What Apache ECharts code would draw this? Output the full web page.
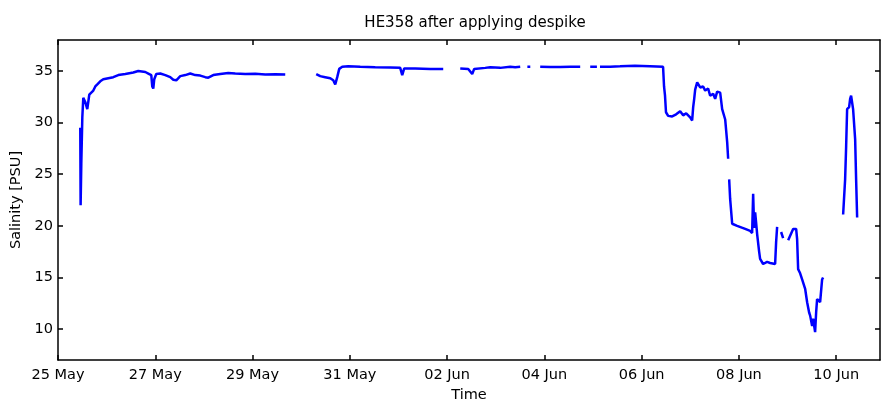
<!DOCTYPE html>
<html>
<head>
<meta charset="utf-8">
<script src="https://cdn.jsdelivr.net/npm/echarts@6/dist/echarts.min.js"></script>
<style>html,body{margin:0;padding:0;background:#fff}#c{width:881px;height:403px}</style>
</head>
<body>
<div id="c"></div>
<script>
// Time in days since 25 May 00:00
var tickLabels = ['25 May','27 May','29 May','31 May','02 Jun','04 Jun','06 Jun','08 Jun','10 Jun'];
var xTicks = [0,2,4,6,8,10,12,14,16];
var yTicks = [10,15,20,25,30,35];
var days = [
 0.458,0.465,0.479,0.5,0.52,0.56,0.602,0.643,0.684,0.726,0.767,0.808,0.869,0.931,1.034,1.137,1.239,1.383,1.548,1.65,1.69,1.795,1.857,1.918,1.938,1.959,1.979,2.02,2.103,2.206,2.308,2.37,2.432,2.514,2.617,2.719,2.822,2.925,3.028,3.09,3.192,3.336,3.5,3.644,3.85,4.055,4.261,4.467,4.672,4.7,
 5.309,5.391,5.494,5.597,5.659,5.7,5.741,5.782,5.844,5.967,6.214,6.522,6.83,7.036,7.077,7.118,7.344,7.653,7.92,7.95,
 8.27,8.434,8.516,8.557,8.783,8.886,9.092,9.297,9.4,9.503,9.55,
 9.65,9.71,9.75,
 9.914,10.125,10.325,10.536,10.736,10.8,
 10.942,11.08,11.11,
 11.143,11.354,11.554,11.862,12.171,12.44,12.46,12.48,12.5,12.544,12.627,12.709,12.791,12.853,12.915,12.997,13.038,13.059,13.08,13.1,13.141,13.203,13.264,13.306,13.367,13.408,13.47,13.511,13.552,13.614,13.655,13.717,13.758,13.778,13.785,
 13.799,13.819,13.861,13.963,14.128,14.23,14.271,14.292,14.312,14.333,14.353,14.374,14.415,14.435,14.497,14.579,14.641,14.744,14.764,14.785,14.82,
 14.867,14.908,14.95,
 15.012,15.053,15.114,15.176,15.196,15.217,15.258,15.299,15.361,15.402,15.443,15.464,15.505,15.525,15.566,15.587,15.607,15.669,15.71,15.73,15.8,
 16.142,16.183,16.204,16.224,16.265,16.286,16.306,16.347,16.389,16.409,16.43
];
var salinity = [
 29.5,22.0,26.0,30.5,32.4,32.0,31.3,32.7,32.6,33.1,33.5,33.7,34.0,34.2,34.3,34.4,34.6,34.7,34.85,35.0,34.85,34.9,34.75,34.6,33.5,33.3,34.2,34.7,34.75,34.6,34.4,34.15,34.1,34.5,34.6,34.75,34.6,34.55,34.4,34.35,34.6,34.7,34.8,34.75,34.7,34.72,34.65,34.68,34.65,null,
 34.7,34.5,34.4,34.3,34.1,33.7,34.4,35.2,35.4,35.45,35.4,35.35,35.33,35.3,34.6,35.25,35.25,35.2,35.2,null,
 35.25,35.2,34.7,35.2,35.3,35.35,35.3,35.4,35.35,35.4,null,
 35.4,35.4,null,
 35.4,35.38,35.38,35.4,35.4,null,
 35.4,35.4,null,
 35.4,35.42,35.45,35.5,35.45,35.4,33.5,32.6,31.0,30.65,30.6,30.8,31.1,30.7,30.9,30.5,30.2,31.5,32.3,33.2,33.9,33.4,33.5,33.1,33.3,32.6,32.8,32.3,33.0,32.9,31.3,30.3,28.1,26.5,null,
 24.5,22.6,20.2,20.0,19.7,19.5,19.3,23.1,19.8,21.3,20.3,19.2,17.5,16.8,16.3,16.5,16.4,16.3,18.4,19.9,null,
 19.4,18.8,null,
 18.6,18.5,19.7,19.7,18.7,15.8,15.4,14.8,13.9,12.6,11.6,11.3,10.3,11.0,9.7,11.6,12.9,12.6,14.8,15.0,null,
 21.1,24.5,27.7,31.3,31.5,32.3,32.6,31.3,28.4,24.5,20.8
];
var xMin = 0, xMax = 16.9;
var yMin = 7, yMax = 38;

var data = days.map(function(d,i){ return [d, salinity[i]]; });
var font = '"DejaVu Sans", "Liberation Sans", Arial, sans-serif';
var axisLine = {show:true, onZero:false, lineStyle:{color:'#000', width:1.5}};
function tick(vals){ return {show:true, inside:true, length:5, customValues:vals, lineStyle:{color:'#000', width:1.5}}; }
function xFmt(v){
  var i = xTicks.indexOf(Math.round(v*1000)/1000);
  return i >= 0 ? tickLabels[i] : '';
}
var chart = echarts.init(document.getElementById('c'), null, {renderer:'canvas'});
chart.setOption({
  animation:false,
  backgroundColor:'#fff',
  title:{text:'HE358 after applying despike', left:470, textAlign:'center', top:11,
    textStyle:{fontFamily:font, fontSize:15, fontWeight:'normal', color:'#000'}},
  grid:{left:58, right:1, top:40, bottom:43, containLabel:false, outerBoundsMode:'none'},
  xAxis:[
    {type:'value', min:xMin, max:xMax, position:'bottom',
     name:'Time', nameLocation:'middle', nameGap:28,
     nameTextStyle:{fontFamily:font, fontSize:14.5, color:'#000'},
     axisLine:axisLine, axisTick:tick(xTicks), splitLine:{show:false},
     axisLabel:{customValues:xTicks, formatter:xFmt, fontFamily:font, fontSize:14.5, color:'#000', margin:8}},
    {type:'value', min:xMin, max:xMax, position:'top',
     axisLine:axisLine, axisTick:tick(xTicks), splitLine:{show:false}, axisLabel:{show:false}}
  ],
  yAxis:[
    {type:'value', min:yMin, max:yMax, position:'left',
     name:'Salinity [PSU]', nameLocation:'middle', nameGap:33, nameRotate:90,
     nameTextStyle:{fontFamily:font, fontSize:14.5, color:'#000'},
     axisLine:axisLine, axisTick:tick(yTicks), splitLine:{show:false},
     axisLabel:{customValues:yTicks, fontFamily:font, fontSize:14.5, color:'#000', margin:5}},
    {type:'value', min:yMin, max:yMax, position:'right',
     axisLine:axisLine, axisTick:tick(yTicks), splitLine:{show:false}, axisLabel:{show:false}}
  ],
  series:[{
    type:'line', data:data, xAxisIndex:0, yAxisIndex:0,
    showSymbol:false, connectNulls:false, smooth:false,
    lineStyle:{color:'#0000ff', width:2.5}, itemStyle:{color:'#0000ff'}
  }]
});
</script>
</body>
</html>
